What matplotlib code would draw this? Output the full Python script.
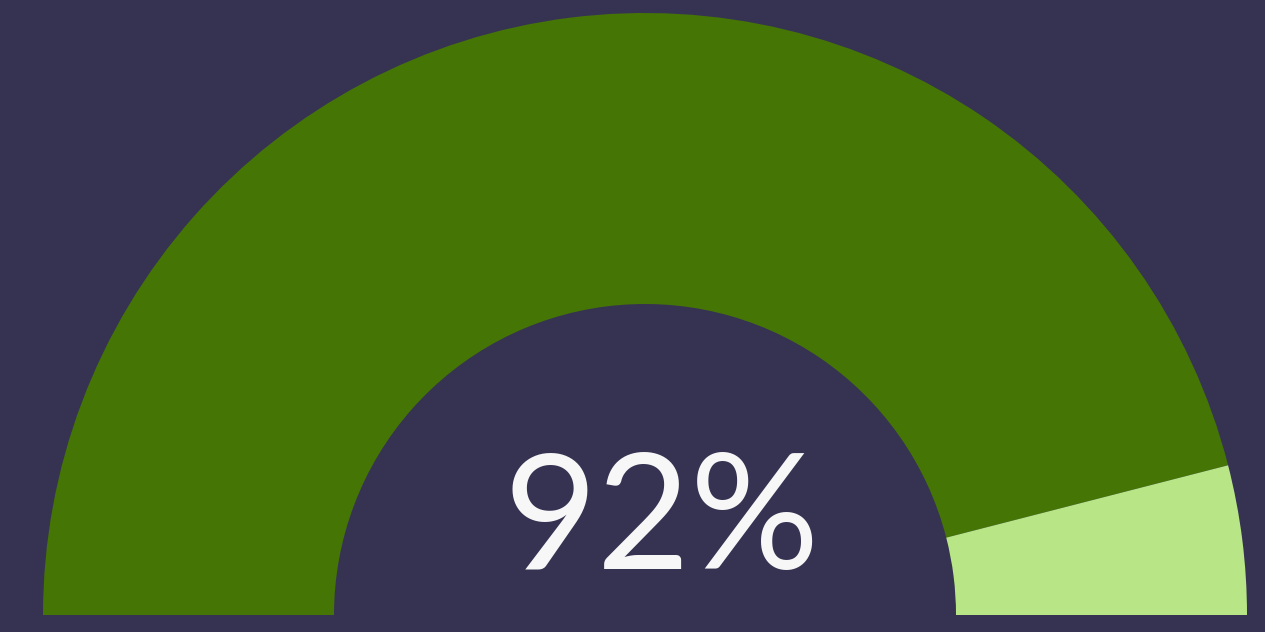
import matplotlib.pyplot as plt
from matplotlib.patches import Wedge

# gauge data
score = 92
total = 100
label = "92%"
colors = ["#457505", "#b8e686"]
bg = "#363352"

fig = plt.figure(figsize=(12.65, 6.32), dpi=100)
fig.patch.set_facecolor(bg)
ax = fig.add_axes([0, 0, 1, 1])
ax.set_facecolor(bg)
ax.set_xlim(0, 1265)
ax.set_ylim(0, 632)
ax.set_aspect("equal")
ax.axis("off")

cx, cy = 645, 17
r_out = 602
ring = 291

# gauge goes from left (180 deg) clockwise to right (0 deg)
split = 180 * (1 - score / total)
ax.add_patch(Wedge((cx, cy), r_out, split, 180, width=ring,
                   facecolor=colors[0], edgecolor="none"))
ax.add_patch(Wedge((cx, cy), r_out, 0, split, width=ring,
                   facecolor=colors[1], edgecolor="none"))

ax.text(662, 108, label, color="#f7f7f7", fontsize=116, fontfamily="Lato",
        fontweight="normal", ha="center", va="center")

fig.savefig("out.png", dpi=100, facecolor=bg)
